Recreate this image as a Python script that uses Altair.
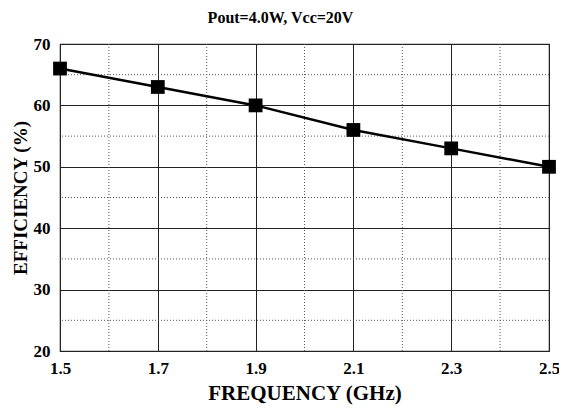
import altair as alt
import pandas as pd

freq = [1.5, 1.7, 1.9, 2.1, 2.3, 2.5]
eff = [66, 63, 60, 56, 53, 50]
x_major = [1.5, 1.7, 1.9, 2.1, 2.3, 2.5]
x_minor = [1.6, 1.8, 2.0, 2.2, 2.4]
y_major = [20, 30, 40, 50, 60, 70]
y_minor = [25, 35, 45, 55, 65]

df = pd.DataFrame({"f": freq, "e": eff})
FONT = "Times New Roman, Liberation Serif, serif"

xs = alt.Scale(domain=[1.5, 2.5], nice=False, zero=False)
ys = alt.Scale(domain=[20, 70], nice=False, zero=False)

xaxis = alt.Axis(values=x_major, format=".1f", title="FREQUENCY (GHz)",
                 titleFontSize=21, titlePadding=6, labelPadding=9)
yaxis = alt.Axis(values=y_major, title="EFFICIENCY (%)",
                 titleFontSize=19, titlePadding=3, labelPadding=10)

vminor = alt.Chart(pd.DataFrame({"x": x_minor})).mark_rule(
    color="#555", strokeDash=[1, 2], strokeWidth=1).encode(x=alt.X("x:Q", scale=xs, axis=xaxis))
hminor = alt.Chart(pd.DataFrame({"y": y_minor})).mark_rule(
    color="#555", strokeDash=[1, 2], strokeWidth=1).encode(y=alt.Y("y:Q", scale=ys, axis=yaxis))

base = alt.Chart(df).encode(
    x=alt.X("f:Q", scale=xs, axis=xaxis),
    y=alt.Y("e:Q", scale=ys, axis=yaxis),
)
line = base.mark_line(color="black", strokeWidth=2.5)
pts = base.mark_square(color="black", size=190, opacity=1)

chart = alt.layer(vminor, hminor, line, pts).properties(
    width=489, height=307,
    title=alt.TitleParams("Pout=4.0W, Vcc=20V", font=FONT, fontWeight="bold",
                          fontSize=16, color="black", anchor="middle", offset=9, dx=-24),
    autosize=alt.AutoSizeParams(type="none"),
    padding={"left": 52, "top": 36, "right": 10, "bottom": 55},
).configure_view(stroke="#333", strokeWidth=1.2).configure_axis(
    grid=True, gridColor="#222", gridWidth=1, gridOpacity=1,
    ticks=False, domain=False, labelFont=FONT, labelFontWeight="bold",
    labelFontSize=17, labelColor="black", labelFlush=False,
    titleFont=FONT, titleFontWeight="bold", titleColor="black",
)

chart.save("out.html", embed_options={"renderer": "svg", "actions": False})
